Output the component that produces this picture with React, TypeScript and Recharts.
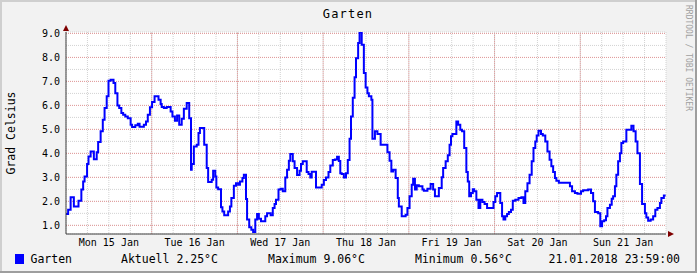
import React from "react";
import { LineChart, Line, XAxis, YAxis, CartesianGrid, ReferenceLine, ReferenceDot } from "recharts";

// hours since Mon 15 Jan 00:00, value starts a new step
const hours = [
  0, 0.6, 1.3, 2.2, 3.5, 4.3, 4.8, 5.2, 5.9, 6.3, 6.9, 7.8, 8.6, 9.0, 9.7, 10.3, 10.8, 11.4, 11.9, 12.5,
  13.3, 13.8, 14.4, 14.9, 15.5, 16.0, 16.6, 17.3, 18.1, 18.5, 19.4, 20.1, 20.6, 21.8, 22.4, 22.9, 23.5,
  24.1, 24.8, 25.9, 26.5, 26.8, 27.4, 28.2, 29.3, 29.8, 30.5, 31.1, 31.7, 32.4, 33.0, 33.8, 34.5, 35.0,
  35.2, 35.8, 36.6, 37.1, 37.5, 38.7, 39.4, 39.8, 40.8, 41.2, 41.8, 42.1, 42.6, 43.4, 43.8, 44.3, 45.4,
  45.9, 46.3, 47.0, 47.6, 48.2, 48.7, 49.4, 49.8, 50.4, 50.7, 51.3, 51.9, 52.4, 53.0, 53.5, 54.0, 54.6,
  55.8, 56.3, 57.3, 57.9, 58.4, 58.8, 59.5, 60.1, 60.7, 61.4, 61.9, 62.4, 62.8, 63.5, 64.0, 64.7, 65.4,
  65.8, 66.3, 67.4, 67.9, 68.4, 68.8, 70.0, 71.6, 72.2, 72.8, 73.5, 74.0, 74.7, 75.3, 75.9, 76.4, 76.8,
  77.2, 77.8, 78.4, 78.9, 79.4, 79.8, 80.3, 80.8, 81.2, 81.8, 82.2, 82.8, 83.4, 83.9, 84.4, 84.8, 85.5,
  85.8, 86.5, 87.2, 88.1, 90.0, 90.6, 91.1, 91.6, 92.3, 92.9, 93.2, 94.0, 95.1, 95.6, 96.2, 96.8, 97.2,
  97.7, 98.2, 98.8, 99.8, 100.2, 101.2, 102.1, 102.8, 103.3, 104.4, 105.2, 105.6, 106.3, 106.9, 107.4,
  107.8, 108.2, 109.3, 109.8, 110.4, 110.9, 111.5, 112.1, 112.5, 112.9, 113.4, 113.9, 114.3, 114.9,
  115.5, 116.0, 116.6, 117.2, 117.9, 119.7, 120.2, 120.7, 121.6, 122.1, 122.5, 123.0, 123.5, 124.0,
  124.6, 125.1, 125.8, 126.7, 127.5, 128.1, 128.6, 129.2, 129.8, 130.4, 130.9, 131.4, 131.8, 132.3,
  133.0, 133.5, 134.2, 134.8, 135.4, 135.9, 136.4, 136.9, 137.3, 138.0, 141.1, 141.7, 142.5, 143.2,
  144.2, 144.8, 146.2, 147.0, 147.6, 148.1, 149.0, 149.6, 150.1, 150.7, 151.2, 151.6, 152.3, 152.8,
  153.2, 153.7, 154.1, 154.6, 155.1, 155.5, 156.0, 156.9, 158.3, 158.9, 159.5, 160.0, 160.7, 161.3,
  162.1, 162.5, 163.0, 163.7, 164.4, 165.0, 165.6, 166.3, 166.7, 167.4, 167.9,
];

const temps = [
  1.47, 1.65, 2.17, 1.79, 2.03, 2.49, 2.83, 3.04, 3.56, 3.87, 4.08, 3.76, 4.05, 4.47, 4.92, 5.4, 5.89, 6.38, 7.03, 7.07,
  6.93, 6.51, 6.0, 5.89, 5.68, 5.61, 5.54, 5.47, 5.19, 5.1, 5.17, 5.24, 5.11, 5.19, 5.33, 5.61, 5.92,
  6.14, 6.38, 6.24, 6.06, 5.93, 5.89, 5.93, 5.75, 5.54, 5.36, 5.58, 5.19, 5.44, 5.86, 6.1, 5.47, 3.32,
  3.56, 4.29, 4.36, 4.85, 5.06, 4.36, 3.39, 2.81, 2.9, 3.28, 3.04, 2.58, 2.51, 1.76, 1.58, 1.42, 1.58,
  1.79, 2.14, 2.65, 2.76, 2.69, 2.83, 2.97, 3.11, 2.1, 1.24, 0.92, 0.82, 0.72, 1.24, 1.47, 1.28, 1.17,
  1.38, 1.51, 1.42, 1.72, 1.89, 2.07, 2.49, 2.53, 2.42, 3.0, 3.32, 3.69, 3.97, 3.67, 3.39, 3.1, 3.28,
  3.56, 3.67, 3.22, 3.14, 3.0, 3.24, 2.58, 2.69, 2.89, 3.0, 3.22, 3.5, 3.72, 3.75, 3.86, 3.68, 3.17,
  3.14, 3.0, 3.17, 3.72, 4.61, 5.54, 6.32, 7.17, 7.97, 8.6, 9.06, 8.53, 7.35, 6.75, 6.51, 6.38, 6.24,
  4.61, 4.92, 4.81, 4.36, 4.05, 3.69, 3.25, 3.32, 2.97, 2.14, 1.79, 1.38, 1.44, 1.72, 2.21, 2.69, 2.94,
  2.49, 2.67, 2.63, 2.49, 2.44, 2.53, 2.72, 2.49, 2.21, 2.56, 3.01, 3.39, 3.67, 3.92, 4.36,
  4.71, 4.81, 5.33, 5.19, 4.99, 4.92, 4.22, 3.22, 2.83, 2.21, 2.35, 2.51, 2.42, 2.07,
  1.72, 2.07, 1.97, 1.89, 1.72, 1.97, 2.21, 2.35, 1.93, 1.38, 1.24, 1.38, 1.47, 1.56,
  1.65, 2.03, 2.07, 2.14, 2.17, 1.93, 2.42, 2.76, 3.11, 3.67, 4.22, 4.5, 4.75, 4.94,
  4.81, 4.75, 4.5, 4.08, 3.74, 3.46, 3.22, 2.97, 2.86, 2.78, 2.63, 2.42, 2.35, 2.32,
  2.42, 2.46, 2.49, 2.35, 2.0, 1.56, 1.51, 0.96, 1.17, 1.21, 1.38, 1.72, 1.86, 2.11,
  2.21, 2.63, 3.11, 3.67, 4.01, 4.43, 4.5, 4.99, 5.15, 4.92, 4.5, 4.01, 2.72, 1.89,
  1.51, 1.33, 1.19, 1.24, 1.38, 1.65, 1.72, 1.93, 2.14, 2.25, 2.25,
];

const dayLabels = ["Mon 15 Jan", "Tue 16 Jan", "Wed 17 Jan", "Thu 18 Jan", "Fri 19 Jan", "Sat 20 Jan", "Sun 21 Jan"];
const yMajor = [1, 2, 3, 4, 5, 6, 7, 8, 9];
const yMinor = [1, 1.5, 2, 2.5, 3, 3.5, 4, 4.5, 5, 5.5, 6, 6.5, 7, 7.5, 8, 8.5, 9];
const xMinor = Array.from({ length: 28 }, (_, i) => i * 6);
const xMajor = [24, 48, 72, 96, 120, 144];

const seriesName = "Garten";
const current = "2.25";
const maximum = "9.06";
const minimum = "0.56";
const lastUpdate = "21.01.2018 23:59:00";

const data = hours.map((h, i) => ({ h, t: temps[i] }));

const FONT = "'DejaVu Sans Mono', monospace";
const W = 697;
const H = 273;

const arrowUp = (p: any) => (
  <polygon points={`${p.cx - 3},${p.cy - 1} ${p.cx + 3},${p.cy - 1} ${p.cx},${p.cy - 7}`} fill="#7F0000" />
);
const arrowRight = (p: any) => (
  <polygon points={`${p.cx + 2},${p.cy - 3} ${p.cx + 2},${p.cy + 3} ${p.cx + 8},${p.cy}`} fill="#7F0000" />
);

export default function App() {
  return (
    <div style={{ position: "absolute", left: 0, top: 0, width: W, height: H, background: "#F2F2F2" }}>
      <LineChart width={W} height={H} data={data} margin={{ top: 32, right: 31, left: 0, bottom: 0 }}>
        <CartesianGrid fill="#FFFFFF" stroke="#D2D2D2" strokeDasharray="1 1" />
        <XAxis
          type="number"
          dataKey="h"
          domain={[0, 168]}
          ticks={xMinor}
          interval={0}
          height={39}
          tickLine={false}
          tickSize={0}
          tickMargin={5}
          axisLine={{ stroke: "#404040" }}
          tick={{ fill: "#000", fontSize: 10, fontFamily: FONT }}
          tickFormatter={(v: number) => (v % 24 === 12 ? dayLabels[Math.floor(v / 24)] : "")}
        />
        <YAxis
          type="number"
          domain={[0.64, 9.06]}
          allowDataOverflow
          ticks={yMinor}
          interval={0}
          width={66}
          tickLine={false}
          tickSize={0}
          tickMargin={6}
          axisLine={{ stroke: "#404040" }}
          tick={{ fill: "#000", fontSize: 10, fontFamily: FONT }}
          tickFormatter={(v: number) => (Number.isInteger(v) ? v.toFixed(1) : "")}
        />
        {yMajor.map((v) => (
          <ReferenceLine key={"y" + v} y={v} stroke="#E39A9A" strokeDasharray="1 1" />
        ))}
        {xMajor.map((v) => (
          <ReferenceLine key={"x" + v} x={v} stroke="#E39A9A" strokeDasharray="1 1" />
        ))}
        <Line
          type="stepAfter"
          dataKey="t"
          stroke="#0000FF"
          strokeWidth={2}
          dot={false}
          isAnimationActive={false}
        />
        <ReferenceDot x={0} y={9.06} ifOverflow="visible" shape={arrowUp} />
        <ReferenceDot x={168} y={0.64} ifOverflow="visible" shape={arrowRight} />
      </LineChart>
      <svg
        width={W}
        height={H}
        style={{ position: "absolute", left: 0, top: 0, pointerEvents: "none" }}
        fontFamily={FONT}
      >
        <rect x={0} y={0} width={W} height={2} fill="#CFCFCF" />
        <rect x={0} y={0} width={2} height={H} fill="#CFCFCF" />
        <rect x={0} y={H - 2} width={W} height={2} fill="#9E9E9E" />
        <rect x={W - 2} y={0} width={2} height={H} fill="#9E9E9E" />
        <text x={348} y={17.5} textAnchor="middle" fontSize={12} letterSpacing={1.2} fill="#000">
          {seriesName}
        </text>
        <text
          x={15}
          y={133}
          textAnchor="middle"
          fontSize={11.5}
          fill="#000"
          transform="rotate(-90 15 133)"
        >
          Grad Celsius
        </text>
        <text
          x={686}
          y={5}
          fontSize={8}
          fill="#A0A0A0"
          transform="rotate(90 686 5)"
        >
          RRDTOOL / TOBI OETIKER
        </text>
        <rect x={15} y={254} width={9} height={10} fill="#0000FF" />
        <g fontSize={11.5} fill="#000">
          <text x={30.5} y={263}>{seriesName}</text>
          <text x={121} y={263}>{`Aktuell ${current}°C`}</text>
          <text x={268} y={263}>{`Maximum ${maximum}°C`}</text>
          <text x={415} y={263}>{`Minimum ${minimum}°C`}</text>
          <text x={548.5} y={263}>{lastUpdate}</text>
        </g>
      </svg>
    </div>
  );
}
